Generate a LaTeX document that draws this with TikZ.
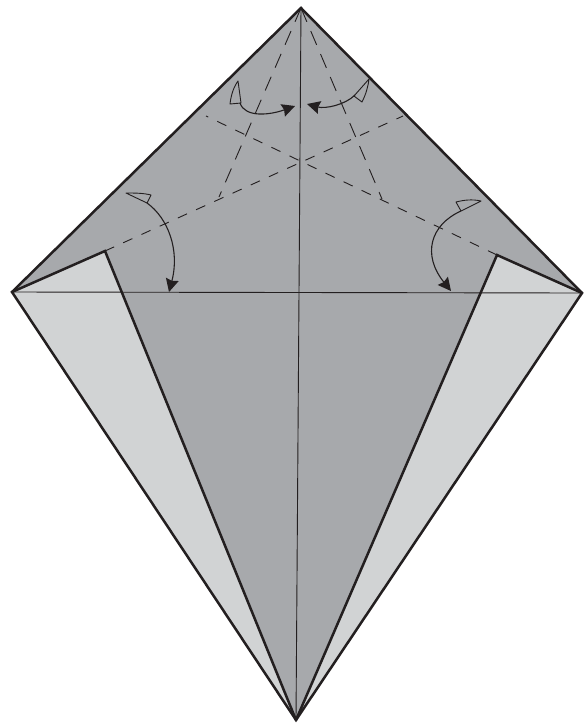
\documentclass[tikz,border=0pt]{standalone}
\usepackage{xcolor}
\usetikzlibrary{arrows.meta}
\definecolor{inkblack}{HTML}{231F20}
\definecolor{paperdark}{HTML}{A7A9AC}
\definecolor{paperlight}{HTML}{D1D3D4}
\begin{document}
\begin{tikzpicture}[
  x=1pt,y=-1pt,
  edge/.style={draw=inkblack,line width=2.5pt,line join=miter},
  crease/.style={draw=inkblack,line width=0.9pt},
  valley/.style={draw=inkblack,line width=0.9pt,dash pattern=on 10pt off 10pt},
  steep/.style={draw=inkblack,line width=0.9pt,dash pattern=on 15pt off 10pt},
  flap/.style={draw=inkblack,line width=0.9pt,line join=round},
  arr/.style={draw=inkblack,line width=1.1pt,-{Stealth[length=13pt,width=13pt,inset=1.5pt]}},
]
\useasboundingbox (0,0) rectangle (588,724);
\coordinate (top) at (301,8);
\coordinate (left) at (12,292);
\coordinate (right) at (582,293);
\coordinate (bottom) at (296,720);
\coordinate (tipl) at (105,251);
\coordinate (tipr) at (497,255);
\coordinate (endl) at (403,116);
\coordinate (endr) at (206,116);
\coordinate (kneel) at (219,197);
\coordinate (kneer) at (382,199);

% paper
\fill[paperdark] (top) -- (right) -- (bottom) -- (left) -- cycle;
\fill[paperlight] (left) -- (tipl) -- (bottom) -- cycle;
\fill[paperlight] (right) -- (tipr) -- (bottom) -- cycle;

% creases
\draw[crease] (top) -- (bottom);
\draw[crease] (left) -- (right);
\draw[valley] (tipl) -- (endl);
\draw[valley] (tipr) -- (endr);
\draw[steep] (top) -- (kneel);
\draw[steep] (top) -- (kneer);

% outline
\draw[edge] (top) -- (right) -- (bottom) -- (left) -- cycle;
\draw[edge] (left) -- (tipl) -- (bottom);
\draw[edge] (right) -- (tipr) -- (bottom);

% top arrows
\draw[flap] (238,81) .. controls (233,88) and (231,96) .. (230,104) -- (241,103) -- cycle;
\coordinate (a1s) at (240,103);
\coordinate (a1e) at (295,106);
\draw[arr] (a1s) .. controls (245,118) and (270,115) .. (a1e);
\draw[flap] (369,79) -- (354,96) -- (362,102) .. controls (366,94) and (368,87) .. (369,79);
\coordinate (a2s) at (355,95);
\coordinate (a2e) at (307,104);
\draw[arr] (a2s) .. controls (345,105) and (325,109) .. (a2e);

% side arrows
\draw[flap] (126,193) .. controls (135,193) and (143,193) .. (151,195) -- (147,203) -- cycle;
\coordinate (a3s) at (147,203);
\coordinate (a3e) at (169,292);
\draw[arr] (a3s) .. controls (168,218) and (180,250) .. (a3e);
\draw[flap] (481,201) .. controls (472,199) and (464,200) .. (456,202) -- (461,211) -- cycle;
\coordinate (a4s) at (461,211);
\coordinate (a4e) at (451,291);
\draw[arr] (a4s) .. controls (430,225) and (422,255) .. (a4e);
\end{tikzpicture}
\end{document}
